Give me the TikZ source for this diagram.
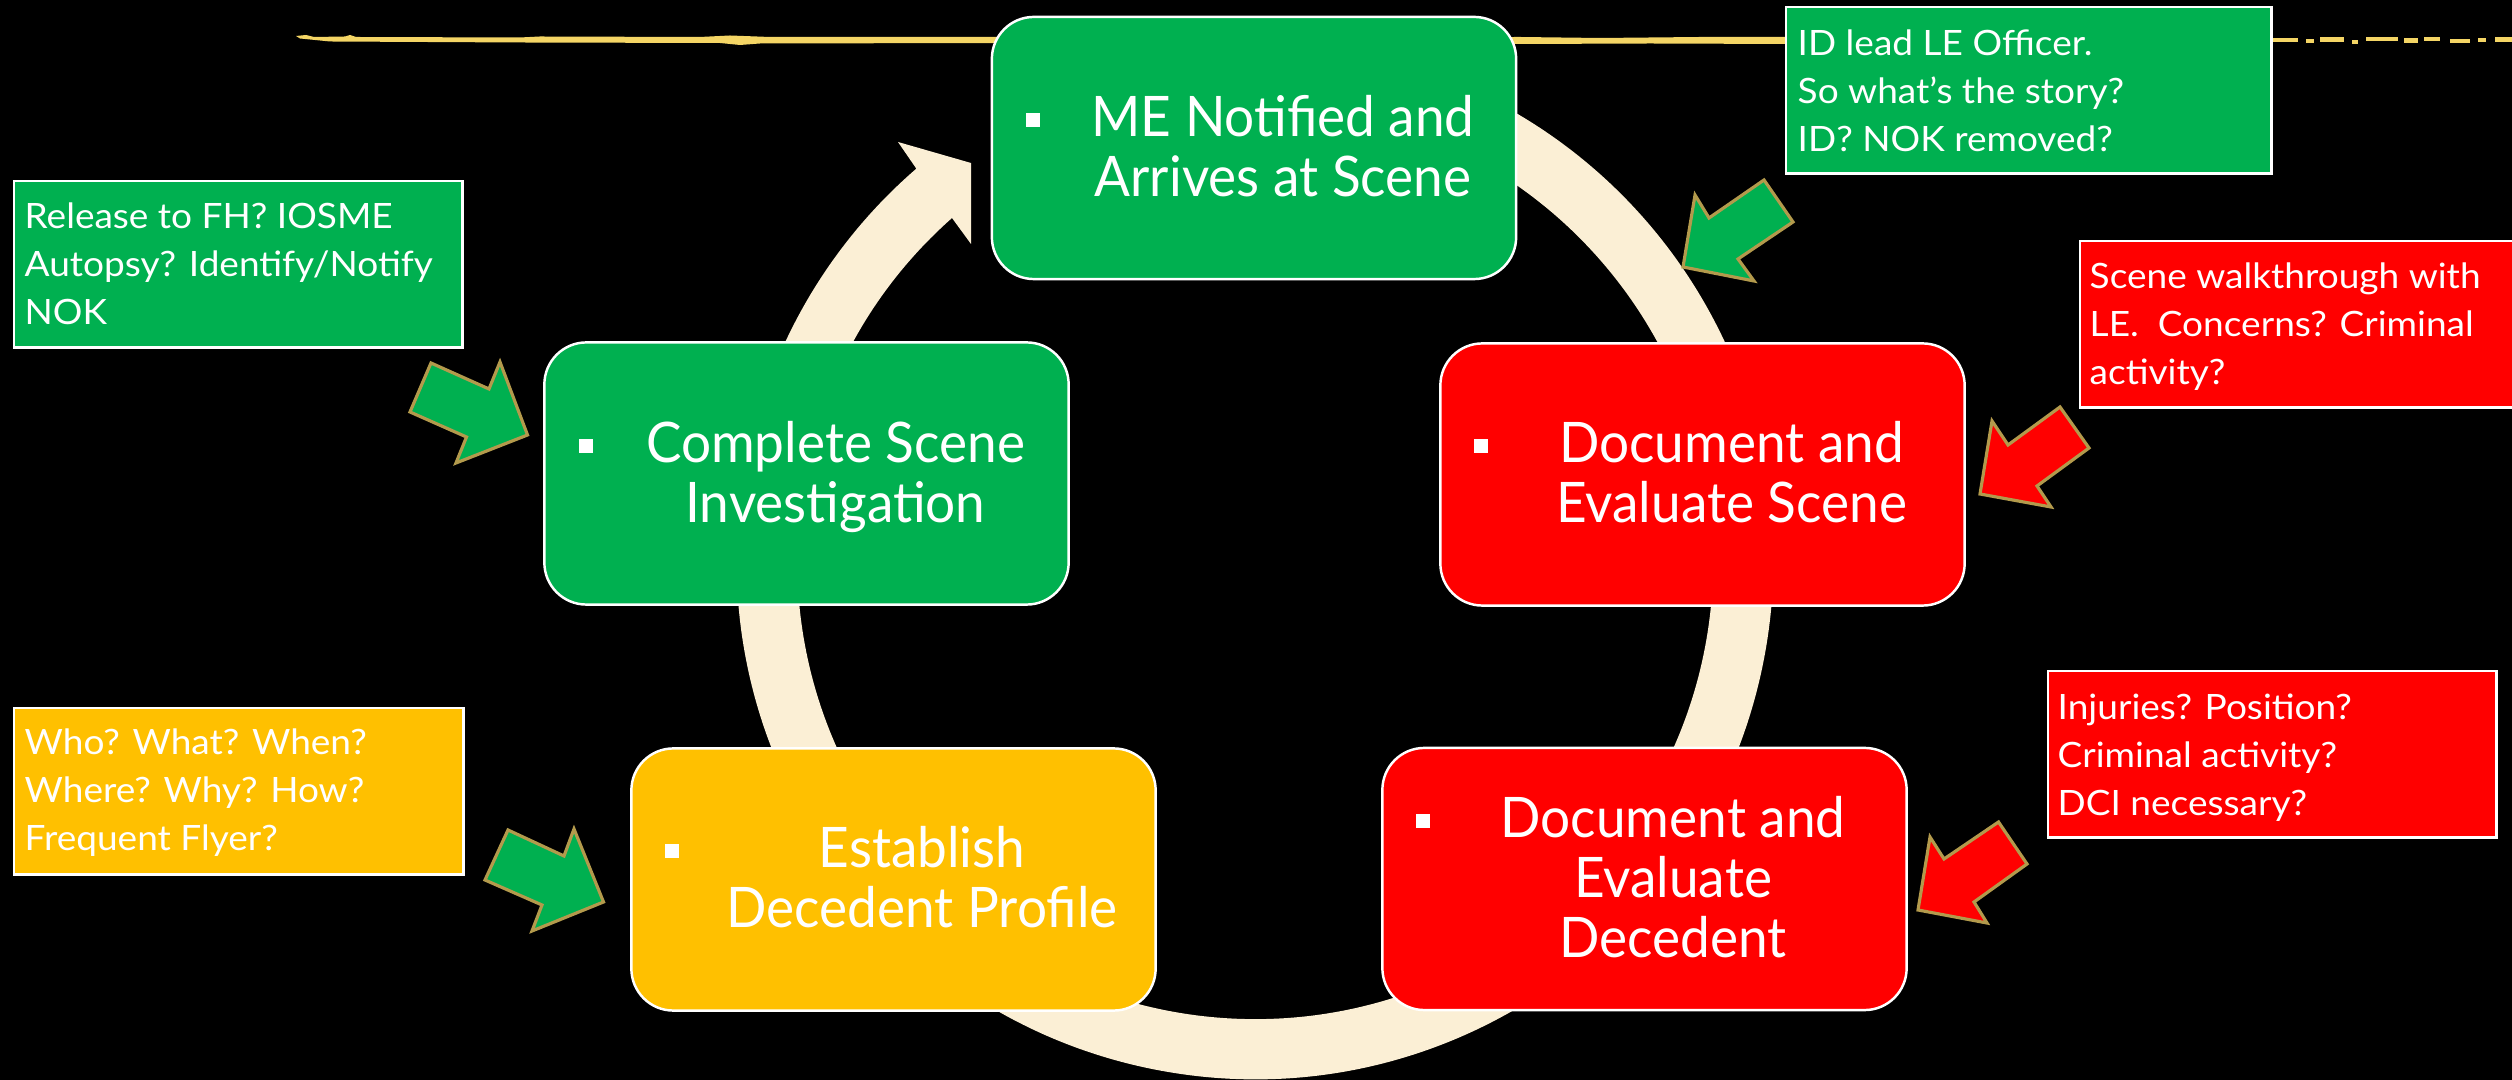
\documentclass[tikz,border=0pt]{standalone}
\usepackage{fontspec}
\setmainfont{Lato}
\newfontfamily\stagefont[FakeStretch=0.95]{Lato}
\newfontfamily\notefont[FakeStretch=1.06]{Lato}
\usetikzlibrary{calc}
\definecolor{boxgreen}{HTML}{00B050}
\definecolor{boxred}{HTML}{FF0000}
\definecolor{boxyellow}{HTML}{FFC000}
\definecolor{ringcream}{HTML}{FBEFD5}
\definecolor{brushgold}{HTML}{F4D565}
\definecolor{arrowedge}{HTML}{B39A4C}
\tikzset{
  stagebox/.style={draw=white, line width=0.7pt, rounded corners=0.42cm,
    minimum width=5.24cm, minimum height=2.62cm, inner sep=0pt},
  stagetext/.style={text=white, align=center, anchor=base, inner sep=0pt,
    font=\stagefont\fontsize{15.9}{17.07}\selectfont},
  bulletsq/.style={fill=white, minimum size=0.14cm, inner sep=0pt},
  notebox/.style={draw=white, line width=0.7pt, inner sep=0pt, anchor=north west,
    minimum height=1.66cm},
  notetext/.style={text=white, align=left, anchor=base west, inner sep=0pt,
    font=\notefont\fontsize{9.93}{13.66}\selectfont},
  pointer/.style={draw=arrowedge, line width=0.9pt, line join=miter},
}
\begin{document}
\begin{tikzpicture}[x=0.01cm, y=0.01cm]
\useasboundingbox (0,0) rectangle (2512,-1080);
\fill[black] (0,0) rectangle (2512,-1080);

% gold brush stroke
\fill[brushgold] (296,-36) -- (306,-35) -- (314,-37) -- (345,-36.5) -- (350,-35) -- (356,-37)
  -- (520,-37.5) -- (540,-36.5) -- (700,-37) -- (730,-35.5) -- (770,-37) -- (1000,-37)
  -- (1300,-37.5) -- (1520,-37) -- (1600,-38) -- (1700,-37) -- (1790,-37)
  -- (1790,-44) -- (1650,-43.5) -- (1520,-44) -- (1300,-43.5) -- (1000,-43)
  -- (760,-43.5) -- (740,-45) -- (720,-43) -- (520,-42.5) -- (330,-41.5) -- (300,-38.5) -- cycle;
\foreach \a/\b/\yy in {2272/2298/40, 2306/2314/41, 2320/2344/39.5, 2352/2358/42, 2366/2398/39,
  2404/2418/40.5, 2424/2440/39, 2450/2470/41, 2478/2486/40, 2495/2512/39.5}
  \draw[brushgold, line width=1.3pt] (\a,-\yy) -- (\b,-\yy);

% cycle ring with arrowhead
\coordinate (ctr) at (1255,-561);
\fill[ringcream] ($(ctr)+(80:5.18cm)$) arc[start angle=80, end angle=-229.2, radius=5.18cm]
  -- (898,-142) -- (971,-163) -- (971,-244) -- (952,-218)
  arc[start angle=131.46, end angle=440, radius=4.577cm] -- cycle;

% stage boxes
\node[stagebox, fill=boxgreen] (me) at (1254,-148) {};
\node[stagebox, fill=boxgreen] (complete) at (806.5,-473.5) {};
\node[stagebox, fill=boxred] (scene) at (1702.5,-474.5) {};
\node[stagebox, fill=boxyellow] (profile) at (893.5,-879.5) {};
\node[stagebox, fill=boxred] (decedent) at (1644.5,-879) {};

\node[bulletsq] (meb) at (1033,-120) {};
\node[bulletsq] (completeb) at (586,-446) {};
\node[bulletsq] (sceneb) at (1481,-446) {};
\node[bulletsq] (profileb) at (672,-851) {};
\node[bulletsq] (decedentb) at (1423,-821) {};

% anchor=base is the baseline of the last line
\node[stagetext] (met) at (1283,-197) {ME Notified and\\Arrives at Scene};
\node[stagetext] (completet) at (835.5,-523) {Complete Scene\\Investigation};
\node[stagetext] (scenet) at (1731.5,-523) {Document and\\Evaluate Scene};
\node[stagetext] (profilet) at (922,-928) {Establish\\Decedent Profile};
\node[stagetext] (decedentt) at (1673,-958) {Document and\\Evaluate\\Decedent};

% note boxes
\node[notebox, fill=boxgreen, minimum width=4.85cm] (n1) at (1785,-6) {};
\node[notebox, fill=boxgreen, minimum width=4.48cm] (n2) at (13,-180) {};
\node[notebox, fill=boxred, minimum width=4.6cm] (n3) at (2079,-240) {};
\node[notebox, fill=boxyellow, minimum width=4.49cm] (n4) at (13,-707) {};
\node[notebox, fill=boxred, minimum width=4.48cm] (n5) at (2047,-670) {};

\node[notetext] (n1t) at (1797,-151.4) {ID lead LE Officer.\\So what’s the story?\\ID? NOK removed?};
\node[notetext] (n2t) at (24,-324.4) {Release to FH? IOSME\\Autopsy? Identify/Notify\\NOK};
\node[notetext] (n3t) at (2089,-384.4) {Scene walkthrough with\\LE.\ \ Concerns? Criminal\\activity?};
\node[notetext] (n4t) at (24,-850.4) {Who? What? When?\\Where? Why? How?\\Frequent Flyer?};
\node[notetext] (n5t) at (2057,-815.4) {Injuries? Position?\\Criminal activity?\\DCI necessary?};

% pointer arrows
\filldraw[pointer, fill=boxgreen] (1764,-180) -- (1793,-222) -- (1738,-259) -- (1754,-281)
  -- (1683,-267) -- (1695,-195) -- (1709,-218) -- cycle;
\filldraw[pointer, fill=boxred] (2060,-407) -- (2089,-448) -- (2037,-486) -- (2051,-507)
  -- (1980,-494) -- (1992,-421) -- (2008,-445) -- cycle;
\filldraw[pointer, fill=boxred] (1998.5,-822) -- (2027,-864) -- (1974,-902) -- (1987,-923)
  -- (1918,-910) -- (1930,-837) -- (1944,-859) -- cycle;
\filldraw[pointer, fill=boxgreen] (431,-363) -- (489,-389) -- (500,-362) -- (527.5,-435)
  -- (456,-463) -- (466.5,-437) -- (410,-412) -- cycle;
\filldraw[pointer, fill=boxgreen] (508,-830) -- (564,-856) -- (574,-829) -- (603.5,-902)
  -- (532,-931) -- (542,-905) -- (485,-880) -- cycle;
\end{tikzpicture}
\end{document}
